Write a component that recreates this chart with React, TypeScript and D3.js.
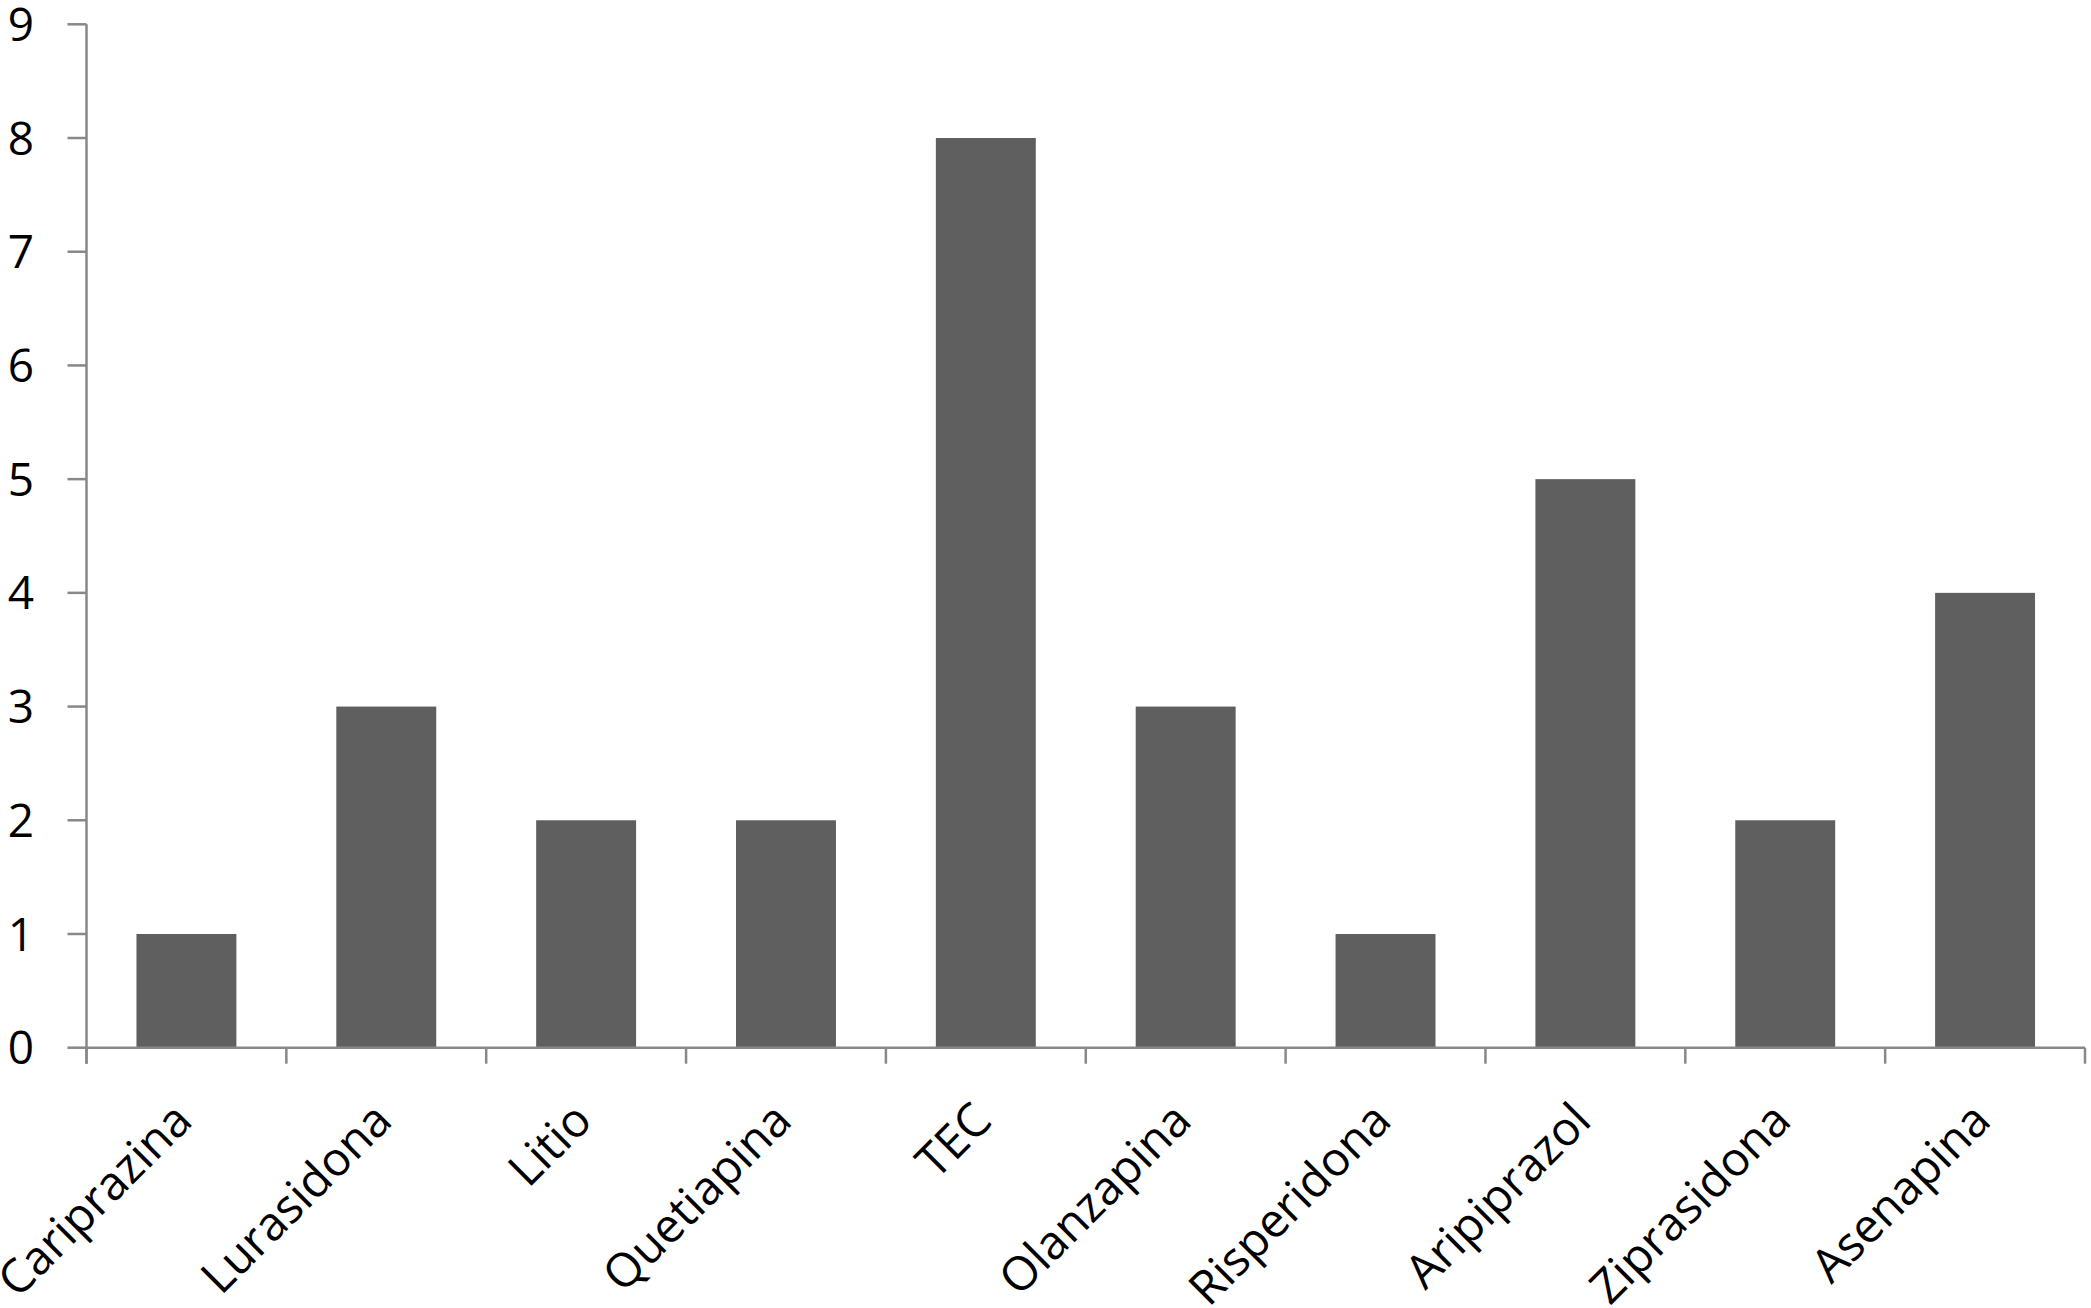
import React from 'react'
import * as d3 from 'd3'

const categories = ['Cariprazina', 'Lurasidona', 'Litio', 'Quetiapina', 'TEC', 'Olanzapina', 'Risperidona', 'Aripiprazol', 'Ziprasidona', 'Asenapina']
const values = [1, 3, 2, 2, 8, 3, 1, 5, 2, 4]
const yTicks = [0, 1, 2, 3, 4, 5, 6, 7, 8, 9]

const W = 2091
const H = 1308
const FONT = '"Open Sans", sans-serif'

const App = () => {
  const svgRef = React.useRef<SVGSVGElement>(null)

  React.useEffect(() => {
    document.body.style.margin = '0'
    const svg = d3.select(svgRef.current)
    svg.selectAll('*').remove()

    const x = d3.scaleBand<string>()
      .domain(categories)
      .range([86.5, 2085])
      .paddingInner(0.5)
      .paddingOuter(0.25)
    const y = d3.scaleLinear().domain([0, 9]).range([1047.7, 24.3])
    const step = x.step()
    const x0 = 86.5
    const axisColor = '#888888'

    // bars
    svg.append('g')
      .selectAll('rect')
      .data(categories)
      .join('rect')
      .attr('x', (d) => x(d) as number)
      .attr('width', x.bandwidth())
      .attr('y', (d, i) => y(values[i]))
      .attr('height', (d, i) => y(0) - y(values[i]))
      .attr('fill', '#5f5f5f')

    // axes
    const g = svg.append('g').attr('stroke', axisColor).attr('stroke-width', 2.5)
    g.append('line')
      .attr('x1', x0).attr('x2', x0)
      .attr('y1', y(9)).attr('y2', y(0) + 16)
    g.selectAll('line.yt')
      .data(yTicks)
      .join('line')
      .attr('class', 'yt')
      .attr('x1', x0 - 19).attr('x2', x0)
      .attr('y1', (d) => y(d)).attr('y2', (d) => y(d))

    g.append('line')
      .attr('x1', x0).attr('x2', x0 + step * categories.length)
      .attr('y1', y(0)).attr('y2', y(0))
    g.selectAll('line.xt')
      .data(d3.range(categories.length + 1))
      .join('line')
      .attr('class', 'xt')
      .attr('x1', (i) => x0 + i * step).attr('x2', (i) => x0 + i * step)
      .attr('y1', y(0)).attr('y2', y(0) + 16)

    // y labels
    svg.append('g')
      .selectAll('text')
      .data(yTicks)
      .join('text')
      .attr('x', 34)
      .attr('y', (d) => y(d))
      .attr('dy', '0.36em')
      .attr('text-anchor', 'end')
      .style('font', `46px ${FONT}`)
      .attr('fill', '#000')
      .text((d) => d)

    // x labels
    svg.append('g')
      .selectAll('text')
      .data(categories)
      .join('text')
      .attr('transform', (d) => `translate(${(x(d) as number) + x.bandwidth() / 2 + 8},1123) rotate(-45)`)
      .attr('text-anchor', 'end')
      .style('font', `47px ${FONT}`)
      .attr('fill', '#000')
      .text((d) => d)
  }, [])

  return <svg ref={svgRef} width={W} height={H} style={{ display: 'block', background: '#fff' }} />
}

export default App
